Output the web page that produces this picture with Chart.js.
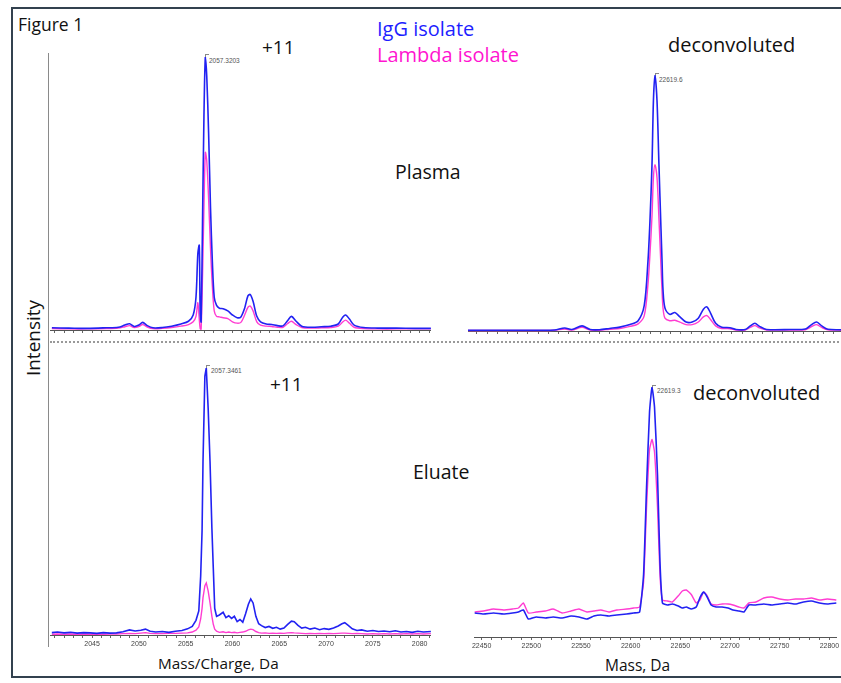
<!DOCTYPE html>
<html>
<head>
<meta charset="utf-8">
<script src="https://cdn.jsdelivr.net/npm/chart.js@4.4.0/dist/chart.umd.min.js"></script>
<style>
  html, body { margin: 0; padding: 0; background: #fff; }
  #fig { position: relative; width: 841px; height: 683px; overflow: hidden; font-family: "Open Sans", sans-serif; color: #111; }
  .frame { position: absolute; left: 11px; top: 7px; width: 840px; height: 671px; border: 2px solid #33414f; box-sizing: border-box; }
  .t { position: absolute; line-height: 1; white-space: nowrap; transform: translateY(-50%); }
  .pk { position: absolute; font-family: "Liberation Sans", sans-serif; font-size: 6.5px; color: #555; line-height: 1; transform: translateY(-50%); }
  .lead { position: absolute; width: 3px; height: 3px; border-top: 1px solid #888; border-left: 1px solid #888; }
  canvas { position: absolute; }
  .yaxis { position: absolute; left: 48px; top: 53px; width: 1px; height: 594px; background: #8a8a8a; }
  .dots { position: absolute; left: 50px; top: 341px; width: 800px; height: 0; border-top: 2px dotted #999; }
</style>
</head>
<body>
<div id="fig">
  <div class="frame"></div>
  <div class="yaxis"></div>
  <div class="dots"></div>

  <div class="t" style="left:18px; top:25px; font-size:17.5px;">Figure 1</div>
  <div class="t" style="left:377px; top:29px; font-size:20px; color:#1e1eff;">IgG isolate</div>
  <div class="t" style="left:377px; top:55px; font-size:20px; color:#ff14d0;">Lambda isolate</div>
  <div class="t" style="left:262px; top:47px; font-size:19px;">+11</div>
  <div class="t" style="left:668px; top:45px; font-size:20px;">deconvoluted</div>
  <div class="t" style="left:395px; top:172px; font-size:19.5px;">Plasma</div>
  <div class="t" style="left:413px; top:472px; font-size:19.5px;">Eluate</div>
  <div class="t" style="left:270px; top:384px; font-size:19px;">+11</div>
  <div class="t" style="left:693px; top:393px; font-size:20px;">deconvoluted</div>
  <div class="t" style="left:158px; top:664px; font-size:15.3px;">Mass/Charge, Da</div>
  <div class="t" style="left:605px; top:666px; font-size:15.5px;">Mass, Da</div>
  <div class="t" style="left:33px; top:338px; font-size:19px; transform: translate(-50%,-50%) rotate(-90deg);">Intensity</div>

  <div class="lead" style="left:205px; top:54px;"></div>
  <div class="pk" style="left:209px; top:61px;">2057.3203</div>
  <div class="lead" style="left:655px; top:73px;"></div>
  <div class="pk" style="left:659px; top:80px;">22619.6</div>
  <div class="lead" style="left:206px; top:365px;"></div>
  <div class="pk" style="left:211px; top:371px;">2057.3461</div>
  <div class="lead" style="left:652px; top:385px;"></div>
  <div class="pk" style="left:657px; top:391px;">22619.3</div>

  <canvas id="plasmaMzChart" width="381" height="277" style="left:50px; top:57px;"></canvas>
  <canvas id="plasmaMassChart" width="373" height="260" style="left:468px; top:75px;"></canvas>
  <canvas id="eluateMzChart" width="381" height="285" style="left:50px; top:368px;"></canvas>
  <canvas id="eluateMassChart" width="371" height="268" style="left:470px; top:387px;"></canvas>
</div>

<script>
// === DATA (intensity scaled so each panel's IgG apex = 100) ===

// plasma, +11 charge state (m/z)
const plasmaMz = [2040.7, 2042.5, 2044.5, 2046.5, 2047.8, 2048.5, 2049.0, 2049.5, 2050.0, 2050.4,
  2050.9, 2051.5, 2052.5, 2053.5, 2054.5, 2055.3, 2055.8, 2056.1, 2056.3, 2056.45,
  2056.55, 2056.65, 2056.8, 2056.95, 2057.1, 2057.25, 2057.45, 2057.65, 2057.85, 2058.05,
  2058.3, 2058.6, 2059.0, 2059.5, 2060.0, 2060.5, 2060.9, 2061.3, 2061.65, 2061.9,
  2062.2, 2062.6, 2063.0, 2063.6, 2064.2, 2064.8, 2065.4, 2065.9, 2066.3, 2066.8,
  2067.4, 2068.5, 2069.5, 2070.5, 2071.3, 2071.8, 2072.1, 2072.5, 2073.0, 2074.0,
  2075.5, 2077.5, 2079.5, 2081.2];
const plasmaMzIgG = [0.8, 0.7, 0.6, 0.8, 1.0, 1.8, 2.3, 1.3, 1.8, 2.8,
  1.6, 0.8, 0.9, 1.4, 2.2, 3.2, 5.5, 12, 28, 31,
  6, 3, 40, 78, 100, 93, 72, 45, 25, 12,
  9, 8, 7.8, 7, 5.5, 4.5, 4.8, 8, 12.5, 13,
  10.5, 5, 3.0, 2.2, 2.0, 1.6, 1.5, 3.5, 5.0, 3.2,
  1.4, 1.0, 1.2, 1.4, 2.2, 4.8, 5.5, 4.0, 1.8, 0.9,
  0.7, 0.7, 0.6, 0.6];
const plasmaMzLambda = [0.5, 0.4, 0.4, 0.5, 0.7, 1.2, 1.6, 0.9, 1.3, 2.0,
  1.1, 0.5, 0.6, 0.9, 1.4, 2.0, 3.0, 5.0, 10, 4,
  0.5, 0.3, 20, 45, 65, 62, 48, 30, 16, 7,
  5, 4.8, 4.5, 4.2, 3.0, 2.5, 2.8, 5.5, 8.3, 8.8,
  7.0, 3.0, 1.8, 1.4, 1.3, 1.0, 1.0, 2.4, 3.2, 2.0,
  0.9, 0.7, 0.8, 0.9, 1.4, 3.0, 3.6, 2.5, 1.0, 0.5,
  0.4, 0.4, 0.4, 0.4];

// plasma, deconvoluted (mass)
const plasmaMass = [22441, 22472, 22512, 22526, 22536, 22543, 22553, 22561, 22570, 22580,
  22590, 22600, 22608, 22614, 22617.6, 22619.6, 22621.6, 22623, 22624.5, 22626.5,
  22628.4, 22630.4, 22631.4, 22632.4, 22634.3, 22639, 22644, 22649, 22655, 22661,
  22667, 22672, 22675.5, 22679, 22684, 22690, 22698, 22704, 22713, 22718,
  22722.5, 22727, 22734, 22757, 22772, 22778, 22783, 22788, 22794, 22807];
const plasmaMassIgG = [0.3, 0.3, 0.3, 0.4, 1.2, 0.6, 2.0, 0.6, 0.5, 1.0,
  1.5, 2.5, 4, 10, 27, 43, 65, 90, 100, 90,
  65, 40, 28, 16, 9, 6.5, 7.2, 5.5, 3.5, 3.5,
  5, 8.5, 9.4, 7, 3, 1.5, 1.3, 0.6, 0.6, 2,
  3, 1.8, 0.6, 0.6, 0.8, 2.5, 3.5, 2, 0.7, 0.5];
const plasmaMassLambda = [0.2, 0.2, 0.2, 0.3, 0.8, 0.4, 1.4, 0.4, 0.3, 0.7,
  1.0, 1.8, 2.8, 6, 18, 30, 45, 60, 65, 60,
  44, 25, 16, 9, 5, 4, 4.2, 3.5, 2.5, 2.5,
  3.5, 5.5, 6, 4.5, 2, 1, 0.9, 0.4, 0.4, 1.4,
  2.1, 1.2, 0.4, 0.4, 0.5, 1.7, 2.5, 1.4, 0.5, 0.3];

// eluate, +11 charge state (m/z)
const eluateMz = [2040.7, 2041.3, 2042.0, 2042.7, 2043.4, 2044.1, 2044.8, 2045.5, 2046.2, 2046.9,
  2047.6, 2048.3, 2049.0, 2049.6, 2050.2, 2050.7, 2051.2, 2051.8, 2052.5, 2053.2,
  2053.9, 2054.6, 2055.2, 2055.7, 2056.1, 2056.4, 2056.6, 2056.75, 2056.85, 2057.05,
  2057.2, 2057.4, 2057.6, 2057.8, 2057.95, 2058.1, 2058.3, 2058.6, 2059.0, 2059.3,
  2059.6, 2059.9, 2060.2, 2060.5, 2060.8, 2061.1, 2061.4, 2061.7, 2061.95, 2062.2,
  2062.5, 2062.8, 2063.1, 2063.5, 2063.9, 2064.3, 2064.7, 2065.1, 2065.5, 2065.9,
  2066.3, 2066.6, 2067.0, 2067.4, 2067.8, 2068.3, 2068.8, 2069.3, 2069.8, 2070.3,
  2070.8, 2071.3, 2071.7, 2072.0, 2072.4, 2072.8, 2073.3, 2073.8, 2074.4, 2075.0,
  2075.6, 2076.2, 2076.8, 2077.4, 2078.0, 2078.6, 2079.2, 2079.8, 2080.4, 2081.2];
const eluateMzIgG = [0.9, 1.1, 0.8, 1.0, 0.7, 0.9, 0.8, 0.6, 0.9, 0.7,
  0.8, 1.2, 1.9, 1.5, 1.8, 2.2, 1.4, 1.1, 1.3, 1.0,
  1.4, 1.7, 2.3, 3.2, 5.5, 9, 22, 39, 65, 97,
  100, 85, 65, 40, 25, 10, 7, 7.5, 8.5, 6.5,
  7.2, 6.2, 7.0, 5.0, 5.8, 4.8, 8, 11.5, 13.5, 12,
  7, 4.2, 3.5, 2.8, 3.2, 2.5, 2.9, 2.2, 2.6, 4.0,
  5.2, 5.0, 3.6, 2.6, 2.9, 2.2, 2.6, 2.0, 2.4, 2.1,
  2.6, 3.4, 4.2, 4.6, 3.5, 2.3, 1.7, 1.9, 1.4, 1.7,
  1.3, 1.5, 1.2, 1.6, 1.1, 1.3, 1.0, 1.4, 1.1, 1.3];
const eluateMzLambda = [0.3, 0.4, 0.3, 0.4, 0.3, 0.4, 0.3, 0.4, 0.3, 0.4,
  0.4, 0.5, 0.6, 0.5, 0.7, 0.9, 0.6, 0.5, 0.5, 0.6,
  0.6, 0.7, 0.8, 1.1, 1.8, 3, 6, 10, 14, 18.5,
  19.5, 16.5, 12, 7, 4, 2.2, 1.4, 1.0, 1.2, 0.9,
  1.1, 0.9, 1.0, 0.8, 1.0, 1.1, 1.4, 1.9, 2.2, 2.0,
  1.3, 0.9, 0.7, 0.8, 0.6, 0.7, 0.6, 0.7, 0.6, 0.8,
  0.9, 0.8, 0.7, 0.6, 0.5, 0.6, 0.5, 0.6, 0.5, 0.6,
  0.5, 0.6, 0.7, 0.7, 0.6, 0.5, 0.6, 0.5, 0.4, 0.5,
  0.4, 0.5, 0.4, 0.5, 0.4, 0.5, 0.4, 0.5, 0.4, 0.5];

// eluate, deconvoluted (mass)
const eluateMass = [22443, 22452, 22462, 22472, 22481, 22487, 22492, 22497, 22505, 22514,
  22522, 22531, 22540, 22548, 22556, 22563, 22570, 22578, 22586, 22596,
  22603, 22609, 22613, 22616, 22619, 22621.5, 22624, 22627, 22629.5, 22632,
  22637, 22642, 22648, 22652, 22656, 22661, 22666, 22670, 22673.5, 22677,
  22681, 22686, 22692, 22698, 22703, 22709, 22714, 22719, 22726, 22734,
  22742, 22750, 22758, 22766, 22774, 22782, 22790, 22798, 22807];
const eluateMassIgG = [9.6, 9.2, 9.6, 9.2, 9.6, 10, 10.8, 7.2, 8, 7.6,
  8, 7.6, 8.4, 8, 7.2, 8.4, 8.8, 8.4, 8.8, 9.2,
  9.6, 10, 25, 60, 90, 100, 92, 65, 30, 13.6,
  12.8, 13.2, 12.4, 11.6, 12, 11.2, 12, 16, 18, 16,
  12.8, 12, 12, 11.6, 10.8, 10.4, 10, 12.8, 12.8, 13.2,
  12.8, 13.2, 13.6, 13.2, 14, 14.4, 13.6, 13.2, 13.6];
const eluateMassLambda = [10, 10.4, 11.2, 10.8, 11.2, 11.6, 13.6, 9.6, 10, 10.4,
  11.2, 9.6, 10.4, 11.2, 10, 10.4, 10.8, 10, 10.8, 11.2,
  11.6, 12, 22, 52, 75, 79, 74, 52, 25, 14.8,
  14.4, 14, 16.5, 18.4, 18.8, 17, 13.6, 15, 18, 16.5,
  13.2, 12.8, 13.2, 13.2, 12.8, 12, 11.6, 13.6, 14, 15.6,
  16, 15.2, 14.8, 15.2, 15.2, 15.6, 14.8, 15.2, 14.8];

// === CHART SETUP ===
const IGG_COLOR = '#2222f2';
const LAMBDA_COLOR = '#ff3cd2';

function pts(xs, ys) {
  return xs.map((x, i) => ({ x: x, y: ys[i] }));
}

function spectrum(id, xs, igg, lambda, opt) {
  return new Chart(document.getElementById(id), {
    type: 'line',
    data: {
      datasets: [
        { label: 'IgG isolate', data: pts(xs, igg), borderColor: IGG_COLOR, borderWidth: 1.6, tension: opt.tension },
        { label: 'Lambda isolate', data: pts(xs, lambda), borderColor: LAMBDA_COLOR, borderWidth: 1.4, tension: opt.tension }
      ]
    },
    options: {
      responsive: false,
      animation: false,
      devicePixelRatio: 1,
      layout: { padding: 0 },
      elements: { point: { radius: 0 } },
      datasets: { line: { clip: false } },
      plugins: { legend: { display: false }, tooltip: { enabled: false } },
      scales: {
        x: {
          type: 'linear',
          min: opt.min,
          max: opt.max,
          afterFit: s => { s.height = opt.axisH; },
          border: { color: '#555', width: 1 },
          grid: { drawOnChartArea: false, tickLength: 3, color: '#666' },
          ticks: {
            stepSize: opt.step,
            includeBounds: false,
            autoSkip: false,
            maxRotation: 0,
            padding: 2,
            color: '#444',
            font: { family: 'Liberation Sans', size: 7 },
            callback: v => (opt.labels && Math.abs(v % opt.every) < 1e-6) ? String(v) : ''
          }
        },
        y: { display: false, min: 0, max: 100 }
      }
    }
  });
}

spectrum('plasmaMzChart', plasmaMz, plasmaMzIgG, plasmaMzLambda,
  { min: 2040.5, max: 2081.2, step: 1, every: 5, labels: false, axisH: 4, tension: 0.3 });
spectrum('plasmaMassChart', plasmaMass, plasmaMassIgG, plasmaMassLambda,
  { min: 22441.2, max: 22806.9, step: 10, every: 50, labels: false, axisH: 4, tension: 0.3 });
spectrum('eluateMzChart', eluateMz, eluateMzIgG, eluateMzLambda,
  { min: 2040.5, max: 2081.2, step: 1, every: 5, labels: true, axisH: 18, tension: 0 });
spectrum('eluateMassChart', eluateMass, eluateMassIgG, eluateMassLambda,
  { min: 22443.1, max: 22806.9, step: 10, every: 50, labels: true, axisH: 18, tension: 0.15 });
</script>
</body>
</html>
